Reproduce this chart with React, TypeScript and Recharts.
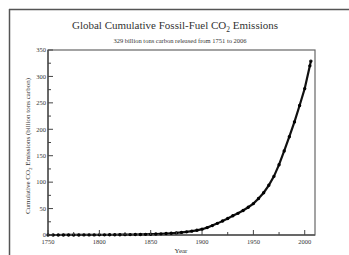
import React from 'react';
import { LineChart, Line, XAxis, YAxis } from 'recharts';

const years = [1750,1755,1760,1765,1770,1775,1780,1785,1790,1795,1800,1805,1810,1815,1820,1825,1830,1835,1840,1845,1850,1855,1860,1865,1870,1875,1880,1885,1890,1895,1900,1905,1910,1915,1920,1925,1930,1935,1940,1945,1950,1955,1960,1965,1970,1975,1980,1985,1990,1995,2000,2005,2006];
const cumulative = [0,0.01,0.03,0.05,0.07,0.09,0.12,0.15,0.19,0.23,0.28,0.33,0.39,0.46,0.54,0.64,0.76,0.9,1.07,1.27,1.5,1.8,2.2,2.7,3.3,4.0,4.9,6.0,7.3,8.9,11,14,17.8,22,26.6,31.3,36.4,41,46.4,52.5,59.4,69,80,94,111,133,159,186,214,245,277,320,329];
const xTicks = [1750,1775,1800,1825,1850,1875,1900,1925,1950,1975,2000];
const yTicks = [0,25,50,75,100,125,150,175,200,225,250,275,300,325,350];

const data = years.map((y, i) => ({ year: y, value: cumulative[i] }));

const FONT = '"Liberation Serif", "DejaVu Serif", serif';

const XTick = (props: any) => {
  const { x, y, payload } = props;
  const major = payload.value % 50 === 0;
  return (
    <g>
      <line x1={x} y1={y} x2={x} y2={y - (major ? 5 : 3)} stroke="#444" strokeWidth={1} />
      {major && (
        <text x={x} y={y + 9} textAnchor="middle" fontSize={6.5} fontFamily={FONT} fill="#333">
          {payload.value}
        </text>
      )}
    </g>
  );
};

const YTick = (props: any) => {
  const { x, y, payload } = props;
  const major = payload.value % 50 === 0;
  return (
    <g>
      <line x1={x} y1={y} x2={x + (major ? 5 : 3)} y2={y} stroke="#444" strokeWidth={1} />
      {major && (
        <text x={x - 2} y={y + 2.3} textAnchor="end" fontSize={6.5} fontFamily={FONT} fill="#333">
          {payload.value}
        </text>
      )}
    </g>
  );
};

export default function App() {
  return (
    <div style={{ position: 'absolute', left: 0, top: 0, width: 349, height: 255, background: '#fff' }}>
      <svg width={349} height={255} style={{ position: 'absolute', left: 0, top: 0 }}>
        <rect x={48} y={50} width={267} height={185} fill="none" stroke="#666" strokeWidth={1.2} />
      </svg>
      <div style={{ position: 'absolute', left: 0, top: 0 }}>
        <LineChart width={349} height={255} data={data} margin={{ top: 50, right: 34, bottom: 0, left: 0 }}>
          <XAxis
            dataKey="year"
            type="number"
            domain={[1750, 2010]}
            ticks={xTicks}
            height={20}
            tickSize={0}
            tickMargin={0}
            tickLine={false}
            axisLine={{ stroke: '#555', strokeWidth: 1.5 }}
            tick={<XTick />}
            interval={0}
          />
          <YAxis
            type="number"
            domain={[0, 350]}
            ticks={yTicks}
            width={48}
            tickSize={0}
            tickMargin={0}
            tickLine={false}
            axisLine={{ stroke: '#555', strokeWidth: 1.5 }}
            tick={<YTick />}
            interval={0}
          />
          <Line
            dataKey="value"
            stroke="#111"
            strokeWidth={2.2}
            dot={{ r: 0.6, fill: '#000', stroke: '#000' }}
            isAnimationActive={false}
          />
        </LineChart>
      </div>
      <svg width={349} height={255} style={{ position: 'absolute', left: 0, top: 0, pointerEvents: 'none' }}>
        <line x1={9} y1={9.5} x2={349} y2={9.5} stroke="#555" strokeWidth={1.5} />
        <line x1={9.5} y1={9} x2={9.5} y2={255} stroke="#555" strokeWidth={1.5} />
        <text x={175} y={29} textAnchor="middle" fontSize={11} fontFamily={FONT} fill="#333">
          Global Cumulative Fossil-Fuel CO
          <tspan fontSize={7.5} dy={3}>2</tspan>
          <tspan dy={-3}> Emissions</tspan>
        </text>
        <text x={180} y={43} textAnchor="middle" fontSize={6.5} fontFamily={FONT} fill="#333">
          329 billion tons carbon released from 1751 to 2006
        </text>
        <text x={181} y={253} textAnchor="middle" fontSize={7} fontFamily={FONT} fill="#333">
          Year
        </text>
        <text transform="translate(30,146) rotate(-90)" textAnchor="middle" fontSize={7} fontFamily={FONT} fill="#333">
          Cumulative CO
          <tspan fontSize={5} dy={2}>2</tspan>
          <tspan dy={-2}> Emissions (billion tons carbon)</tspan>
        </text>
      </svg>
    </div>
  );
}
